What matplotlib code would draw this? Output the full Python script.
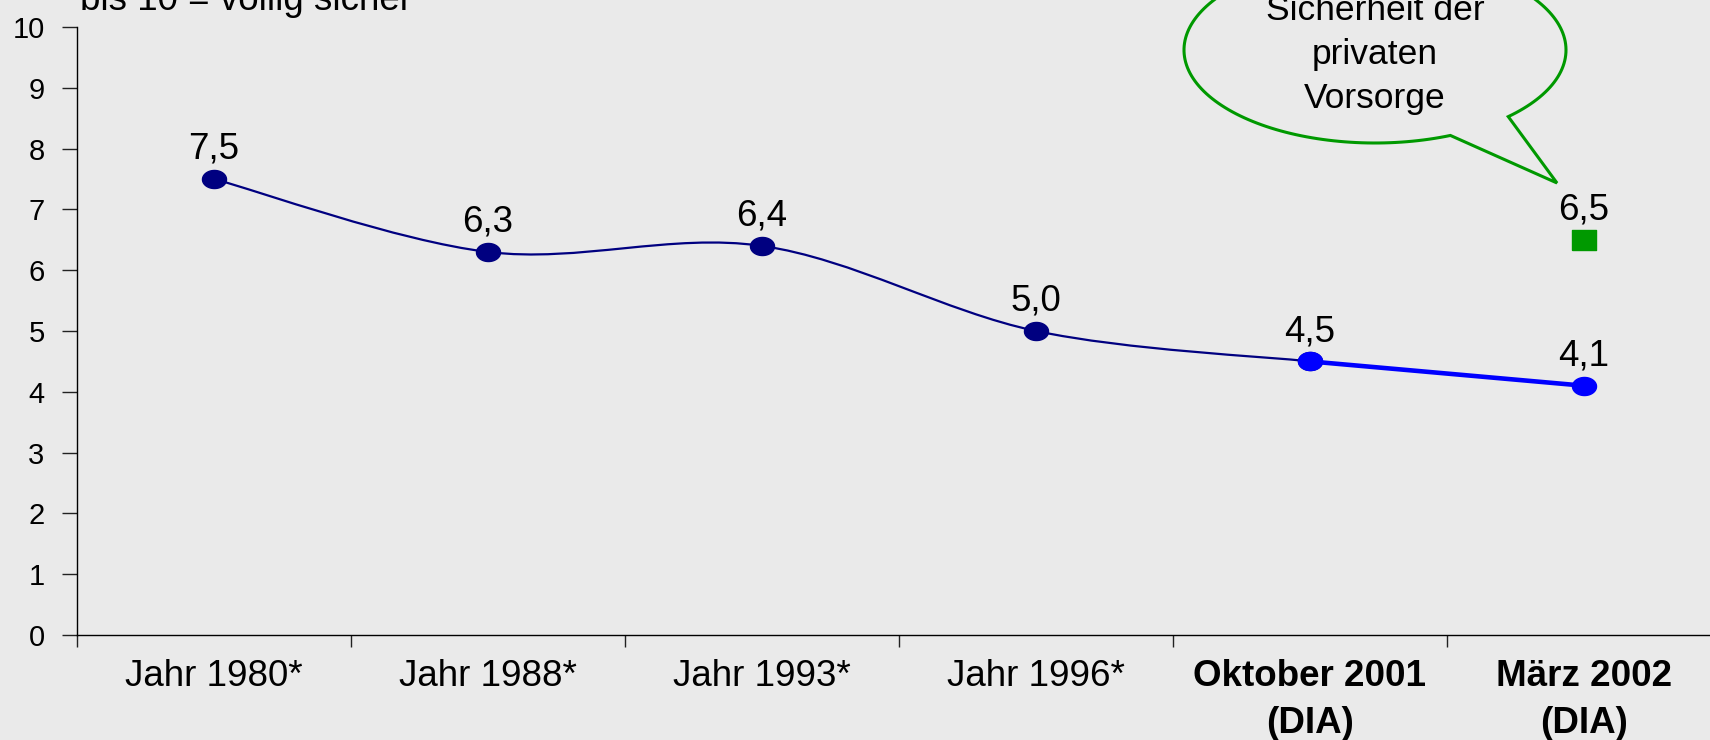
import numpy as np
import matplotlib
matplotlib.use("Agg")
import matplotlib.pyplot as plt
import matplotlib.transforms as mtransforms
from matplotlib.path import Path
from matplotlib.patches import PathPatch

plt.rcParams['font.family'] = ['Liberation Sans', 'DejaVu Sans']

# data
categories = ['Jahr 1980*', 'Jahr 1988*', 'Jahr 1993*', 'Jahr 1996*',
              'Oktober 2001\n(DIA)', 'März 2002\n(DIA)']
bold_label = [False, False, False, False, True, True]
gesetzlich = [7.5, 6.3, 6.4, 5.0, 4.5]      # Jahr 1980 .. Oktober 2001
dia = [4.5, 4.1]                             # Oktober 2001, März 2002
privat = [6.5]                               # März 2002
y_ticks = list(range(0, 11))
top_note = 'bis 10 = völlig sicher'
bubble_lines = ['Sicherheit der', 'privaten', 'Vorsorge']

bg = '#EAEAEA'
navy = '#000080'
blue = '#0000FF'
green = '#009900'

fig = plt.figure(figsize=(17.1, 7.4), dpi=100, facecolor=bg)
ax = fig.add_axes([0.045, 0.1419, 0.9614, 0.8216], facecolor=bg)

x_g = np.arange(len(gesetzlich))
x_d = np.arange(len(gesetzlich) - 1, len(gesetzlich) - 1 + len(dia))
x_p = np.arange(len(categories) - len(privat), len(categories))

# smoothed line (Bezier through the points, like the spreadsheet "smoothed line")
pts = np.column_stack([x_g, gesetzlich]).astype(float)
ext = np.vstack([pts[0], pts, pts[-1]])
verts = [pts[0]]
codes = [Path.MOVETO]
for i in range(len(pts) - 1):
    p0, p1, p2, p3 = ext[i], ext[i + 1], ext[i + 2], ext[i + 3]
    verts += [p1 + (p2 - p0) / 6, p2 - (p3 - p1) / 6, p2]
    codes += [Path.CURVE4] * 3
ax.add_patch(PathPatch(Path(verts, codes), facecolor='none', edgecolor=navy,
                       lw=1.6, zorder=3))

# elliptic markers (chart is stretched horizontally)
t = np.linspace(0, 2 * np.pi, 80)
ell = Path(np.column_stack([1.33 * np.cos(t), np.sin(t)]))
rect = Path([(-1.26, -1), (1.26, -1), (1.26, 1), (-1.26, 1), (-1.26, -1)])

ax.plot(x_g, gesetzlich, ls='none', marker=ell, ms=17.3, color=navy, zorder=4)
ax.plot(x_d, dia, color=blue, lw=3.3, marker=ell, ms=17.3, zorder=5)
ax.plot(x_p, privat, ls='none', marker=rect, ms=17.3, color=green, zorder=5)

def fmt(v):
    return f'{v:.1f}'.replace('.', ',')

for xs, ys in [(x_g[:-1], gesetzlich[:-1]), (x_d, dia), (x_p, privat)]:
    for xv, yv in zip(xs, ys):
        ax.annotate(fmt(yv), (xv, yv), xytext=(0, 14.5), textcoords='offset points',
                    ha='center', va='baseline', fontsize=26.5, color='black')

ax.set_xlim(-0.5, len(categories) - 0.5)
ax.set_ylim(0, 10)
ax.set_yticks(y_ticks)
ax.tick_params(axis='y', labelsize=21, length=10.8, width=1, pad=12.5, color='#222222')
ax.set_xticks(np.arange(-0.5, len(categories) + 0.5, 1))
ax.set_xticklabels([])
ax.set_xticks(np.arange(len(categories)), minor=True)
ax.set_xticklabels(categories, minor=True, fontsize=26.5, linespacing=1.45)
ax.tick_params(axis='x', which='major', length=8.5, width=1, color='#222222')
ax.tick_params(axis='x', which='minor', length=0, pad=17)
for lab, b in zip(ax.get_xticklabels(minor=True), bold_label):
    if b:
        lab.set_fontweight('bold')

for s in ['top', 'right']:
    ax.spines[s].set_visible(False)
for s in ['left', 'bottom']:
    ax.spines[s].set_color('black')
    ax.spines[s].set_linewidth(1.0)

# pixel transform (origin top-left)
pix = mtransforms.Affine2D().scale(1 / 1710, -1 / 740).translate(0, 1) + fig.transFigure

fig.text(80, 10, top_note, transform=pix, fontsize=26.5, va='baseline', ha='left')

# speech bubble
cx, cy, rx, ry = 1375, 50, 191, 93
base_a = (1509, 117)
tip = (1557, 183)
base_b = (1450, 135)
ta = np.arctan2((base_a[1] - cy) / ry, (base_a[0] - cx) / rx)
tb = np.arctan2((base_b[1] - cy) / ry, (base_b[0] - cx) / rx)
th = np.linspace(ta, tb - 2 * np.pi, 200)
arc = np.column_stack([cx + rx * np.cos(th), cy + ry * np.sin(th)])
bverts = np.vstack([arc, [tip], [arc[0]]])
bcodes = [Path.MOVETO] + [Path.LINETO] * (len(bverts) - 2) + [Path.CLOSEPOLY]
fig.patches.append(PathPatch(Path(bverts, bcodes), transform=pix, facecolor=bg,
                             edgecolor=green, lw=2.2, zorder=6))
for line, yb in zip(bubble_lines, [20, 64, 108]):
    fig.text(cx, yb, line, transform=pix, fontsize=25.5, ha='center', va='baseline',
             zorder=7)

fig.savefig('out.png', dpi=100, facecolor=bg)
